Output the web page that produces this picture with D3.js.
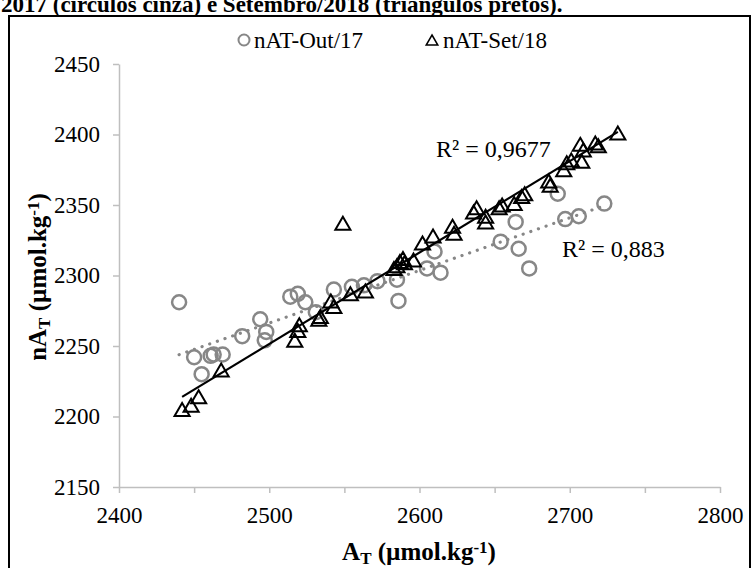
<!DOCTYPE html>
<html lang="pt">
<head>
<meta charset="UTF-8" />
<title>nAT x AT</title>
<script src="https://d3js.org/d3.v7.min.js"></script>
<style>
  body { margin: 0; background: #fff; }
  .axis path, .axis line { stroke: #bfbfbf; stroke-width: 1.5; }
</style>
</head>
<body>
<div id="chart"></div>
<script>
// Out/2017 (círculos cinza)
const out17AT = [2440, 2450, 2455, 2461, 2463, 2469, 2482, 2494, 2498, 2497, 2514, 2519, 2524, 2531,
  2543, 2555, 2563, 2572, 2585, 2586, 2605, 2610, 2614, 2654, 2664, 2666, 2673, 2692, 2697, 2706, 2723]
const out17nAT = [2281, 2242, 2230, 2243, 2244, 2244, 2257, 2269, 2260, 2254, 2285, 2287, 2281, 2274,
  2290, 2292, 2293, 2296, 2297, 2282, 2305, 2317, 2302, 2324, 2338, 2319, 2305, 2358, 2340, 2342, 2351]

// Set/2018 (triângulos pretos)
const set18AT = [2442, 2448, 2453, 2468, 2517, 2519, 2520, 2533, 2534, 2541, 2543, 2549, 2554, 2564,
  2583, 2585, 2587, 2589, 2590, 2596, 2602, 2609, 2622, 2623, 2636, 2638, 2644, 2644, 2653, 2655,
  2663, 2668, 2670, 2686, 2687, 2696, 2698, 2701, 2707, 2708, 2709, 2717, 2719, 2732]
const set18nAT = [2205, 2208, 2214, 2233, 2254, 2261, 2265, 2269, 2271, 2282, 2278, 2337, 2287, 2289,
  2305, 2307, 2310, 2312, 2309, 2311, 2323, 2328, 2335, 2330, 2345, 2348, 2338, 2342, 2348, 2350,
  2351, 2356, 2358, 2367, 2364, 2375, 2380, 2382, 2393, 2381, 2389, 2394, 2392, 2401]

const xTicks = [2400, 2450, 2500, 2550, 2600, 2650, 2700, 2750, 2800]
const xLabels = [2400, 2500, 2600, 2700, 2800]
const yTicks = [2150, 2200, 2250, 2300, 2350, 2400, 2450]
const seriesNames = ['nAT-Out/17', 'nAT-Set/18']
const r2Labels = ['R² = 0,883', 'R² = 0,9677']

const width = 755, height = 568
const serif = '"Liberation Serif", "Times New Roman", serif'

const svg = d3.select('#chart').append('svg')
  .attr('width', width)
  .attr('height', height)
  .style('font-family', serif)

// titulo (cortado no topo)
svg.append('text')
  .attr('x', 1).attr('y', 12)
  .style('font-size', '23px').style('font-weight', 'bold')
  .text('2017 (círculos cinza) e Setembro/2018 (triângulos pretos).')

// moldura
svg.append('rect')
  .attr('x', 9).attr('y', 16)
  .attr('width', 741).attr('height', 570)
  .attr('fill', 'none').attr('stroke', '#000').attr('stroke-width', 2)

const x = d3.scaleLinear().domain([2400, 2800]).range([119, 720])
const y = d3.scaleLinear().domain([2150, 2450]).range([487, 64])

// eixos
const xAxis = d3.axisBottom(x).tickValues(xTicks).tickSize(6).tickSizeOuter(0).tickPadding(14)
  .tickFormat(d => xLabels.includes(d) ? d3.format('d')(d) : '')
svg.append('g').attr('class', 'axis')
  .attr('transform', `translate(0,${y(2150)})`)
  .call(xAxis)

const yAxis = d3.axisLeft(y).tickValues(yTicks).tickSize(6).tickSizeOuter(0).tickPadding(13)
  .tickFormat(d3.format('d'))
svg.append('g').attr('class', 'axis')
  .attr('transform', `translate(${x(2400)},0)`)
  .call(yAxis)

svg.selectAll('.axis')
  .attr('font-family', null).attr('font-size', null)
svg.selectAll('.axis text')
  .style('font-family', serif).style('font-size', '23px').attr('fill', '#000')
svg.selectAll('.axis .domain').attr('stroke', '#bfbfbf')

// regressao linear
const fit = (xs, ys) => {
  const mx = d3.mean(xs), my = d3.mean(ys)
  let sxy = 0, sxx = 0
  xs.forEach((v, i) => { sxy += (v - mx) * (ys[i] - my); sxx += (v - mx) * (v - mx) })
  const b = sxy / sxx
  return { b, a: my - b * mx, x0: d3.min(xs), x1: d3.max(xs) }
}
const fitOut = fit(out17AT, out17nAT)
const fitSet = fit(set18AT, set18nAT)

const tri = s => `M0,${-s * 0.5}L${s * 0.58},${s * 0.5}L${-s * 0.58},${s * 0.5}Z`

// circulos
const circ = out17AT.map((v, i) => ({ x: v, y: out17nAT[i] }))
svg.append('g').selectAll('circle').data(circ).join('circle')
  .attr('cx', d => x(d.x)).attr('cy', d => y(d.y)).attr('r', 7)
  .attr('fill', 'none').attr('stroke', '#878787').attr('stroke-width', 2.5)

// linha pontilhada
svg.append('line')
  .attr('x1', x(fitOut.x0)).attr('y1', y(fitOut.a + fitOut.b * fitOut.x0))
  .attr('x2', x(fitOut.x1)).attr('y2', y(fitOut.a + fitOut.b * fitOut.x1))
  .attr('stroke', '#878787').attr('stroke-width', 3.2)
  .attr('stroke-linecap', 'round').attr('stroke-dasharray', '0.1 8')

// triangulos
const tris = set18AT.map((v, i) => ({ x: v, y: set18nAT[i] }))
svg.append('g').selectAll('path').data(tris).join('path')
  .attr('transform', d => `translate(${x(d.x)},${y(d.y)})`)
  .attr('d', tri(13))
  .attr('fill', 'none').attr('stroke', '#000').attr('stroke-width', 2)

// linha preta
svg.append('line')
  .attr('x1', x(fitSet.x0)).attr('y1', y(fitSet.a + fitSet.b * fitSet.x0))
  .attr('x2', x(fitSet.x1)).attr('y2', y(fitSet.a + fitSet.b * fitSet.x1))
  .attr('stroke', '#000').attr('stroke-width', 2.2)

// R2
svg.append('text').attr('x', 436).attr('y', 157).style('font-size', '24px').text(r2Labels[1])
svg.append('text').attr('x', 562).attr('y', 257).style('font-size', '24px').text(r2Labels[0])

// legenda
const leg = svg.append('g')
leg.append('circle').attr('cx', 244).attr('cy', 40).attr('r', 5.5)
  .attr('fill', 'none').attr('stroke', '#878787').attr('stroke-width', 2)
leg.append('text').attr('x', 254).attr('y', 48).style('font-size', '23px').text(seriesNames[0])
leg.append('path').attr('transform', 'translate(432,40)').attr('d', tri(10))
  .attr('fill', 'none').attr('stroke', '#000').attr('stroke-width', 1.5)
leg.append('text').attr('x', 443).attr('y', 48).style('font-size', '23px').text(seriesNames[1])

// titulos dos eixos
const xt = svg.append('text').attr('x', 419).attr('y', 560)
  .attr('text-anchor', 'middle').style('font-size', '25px').style('font-weight', 'bold')
xt.append('tspan').text('A')
xt.append('tspan').attr('baseline-shift', '-25%').style('font-size', '17px').text('T')
xt.append('tspan').text(' (µmol.kg')
xt.append('tspan').attr('baseline-shift', '40%').style('font-size', '17px').text('-1')
xt.append('tspan').text(')')

const yt = svg.append('text').attr('transform', 'translate(46,277) rotate(-90)')
  .attr('text-anchor', 'middle').style('font-size', '25px').style('font-weight', 'bold')
yt.append('tspan').text('nA')
yt.append('tspan').attr('baseline-shift', '-25%').style('font-size', '17px').text('T')
yt.append('tspan').text(' (µmol.kg')
yt.append('tspan').attr('baseline-shift', '40%').style('font-size', '17px').text('-1')
yt.append('tspan').text(')')
</script>
</body>
</html>
